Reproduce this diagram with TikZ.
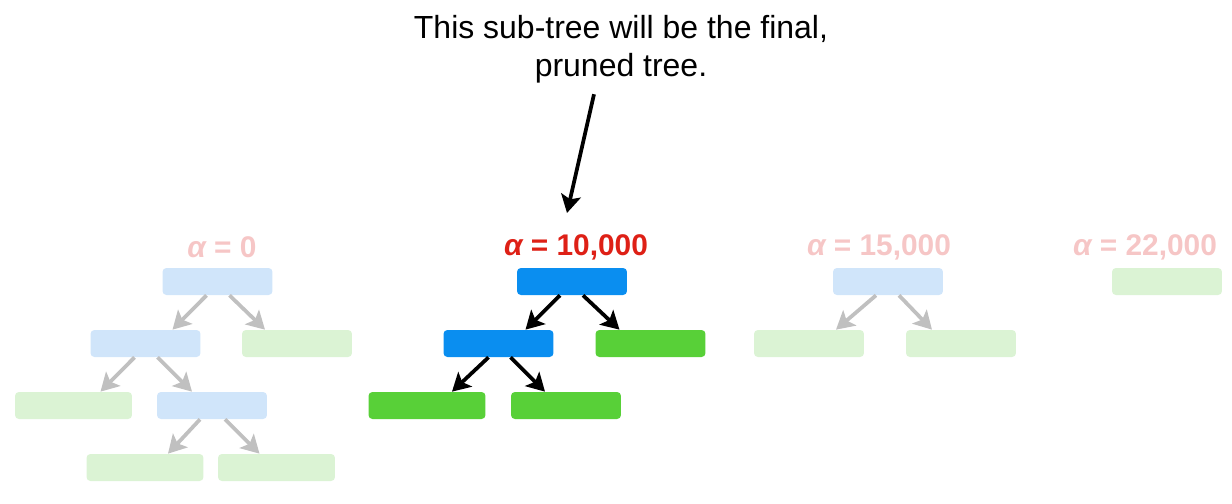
\documentclass[tikz,border=0pt]{standalone}
\usepackage{fontspec}
\setmainfont{Liberation Sans}
\usetikzlibrary{positioning,calc,arrows.meta}

\definecolor{splitblue}{RGB}{10,142,240}
\definecolor{leafgreen}{RGB}{88,208,56}
\definecolor{alphared}{RGB}{222,32,22}
\definecolor{paleblue}{RGB}{208,229,250}
\definecolor{palegreen}{RGB}{219,243,212}
\definecolor{palered}{RGB}{246,198,198}
\definecolor{paleedge}{RGB}{192,192,192}

\begin{document}
\begin{tikzpicture}[x=0.02cm, y=-0.02cm,
    box/.style={rounded corners=2.2pt, minimum width=2.2cm, minimum height=0.54cm, inner sep=0pt},
    wide/.style={minimum width=2.34cm},
    split/.style={box, fill=splitblue},
    leaf/.style={box, fill=leafgreen},
    pale split/.style={box, fill=paleblue},
    pale leaf/.style={box, fill=palegreen},
    alpha label/.style={inner sep=0pt, font=\fontsize{17}{19}\selectfont\bfseries},
    edge/.style={line width=0.075cm, -{Stealth[length=0.36cm, width=0.4cm, inset=0.08cm]}},
    pale edge/.style={edge, draw=paleedge}]
  \useasboundingbox (0,0) rectangle (1232,504);

  % alpha = 0
  \node (lab0) [alpha label, text=palered] at (222,247) {{\itshape α} = 0};
  \node (r0) [pale split] at (217.5,281.5) {};
  \node (a0) [pale split] at (145.5,343.5) {};
  \node (b0) [pale leaf] at (297,343.5) {};
  \node (c0) [pale leaf, wide] at (73.5,405.5) {};
  \node (d0) [pale split] at (212,405.5) {};
  \node (e0) [pale leaf, wide] at (145,467.5) {};
  \node (f0) [pale leaf, wide] at (276.5,467.5) {};
  \draw[pale edge] ($(r0.south)+(-11,0)$) -- ($(a0.north)+(27,0)$);
  \draw[pale edge] ($(r0.south)+(12,0)$) -- ($(b0.north)+(-32,0)$);
  \draw[pale edge] ($(a0.south)+(-11,0)$) -- ($(c0.north)+(27,0)$);
  \draw[pale edge] ($(a0.south)+(12,0)$) -- ($(d0.north)+(-20,0)$);
  \draw[pale edge] ($(d0.south)+(-12,0)$) -- ($(e0.north)+(23,0)$);
  \draw[pale edge] ($(d0.south)+(13,0)$) -- ($(f0.north)+(-17,0)$);

  % alpha = 10,000
  \node (lab1) [alpha label, text=alphared] at (576,247) {{\itshape α} = 10,000};
  \node (r1) [split] at (572,281.5) {};
  \node (a1) [split] at (498.5,343.5) {};
  \node (b1) [leaf] at (650.5,343.5) {};
  \node (c1) [leaf, wide] at (427,405.5) {};
  \node (d1) [leaf] at (566,405.5) {};
  \draw[edge] ($(r1.south)+(-12,0)$) -- ($(a1.north)+(27,0)$);
  \draw[edge] ($(r1.south)+(11,0)$) -- ($(b1.north)+(-31,0)$);
  \draw[edge] ($(a1.south)+(-10,0)$) -- ($(c1.north)+(25,0)$);
  \draw[edge] ($(a1.south)+(12,0)$) -- ($(d1.north)+(-21,0)$);

  % alpha = 15,000
  \node (lab2) [alpha label, text=palered] at (879,247) {{\itshape α} = 15,000};
  \node (r2) [pale split] at (888,281.5) {};
  \node (a2) [pale leaf] at (809,343.5) {};
  \node (b2) [pale leaf] at (961,343.5) {};
  \draw[pale edge] ($(r2.south)+(-12,0)$) -- ($(a2.north)+(27,0)$);
  \draw[pale edge] ($(r2.south)+(11,0)$) -- ($(b2.north)+(-29,0)$);

  % alpha = 22,000
  \node (lab3) [alpha label, text=palered] at (1145,247) {{\itshape α} = 22,000};
  \node (r3) [pale leaf] at (1167,281.5) {};

  \node (note) [align=center, inner sep=0pt, font=\fontsize{18.2}{21.6}\selectfont] at (621,49)
    {This sub-tree will be the final,\\pruned tree.};
  \coordinate (tip) at (567,213);
  \draw[edge] ($(note.south)+(-27,11)$) -- (tip);
\end{tikzpicture}
\end{document}
